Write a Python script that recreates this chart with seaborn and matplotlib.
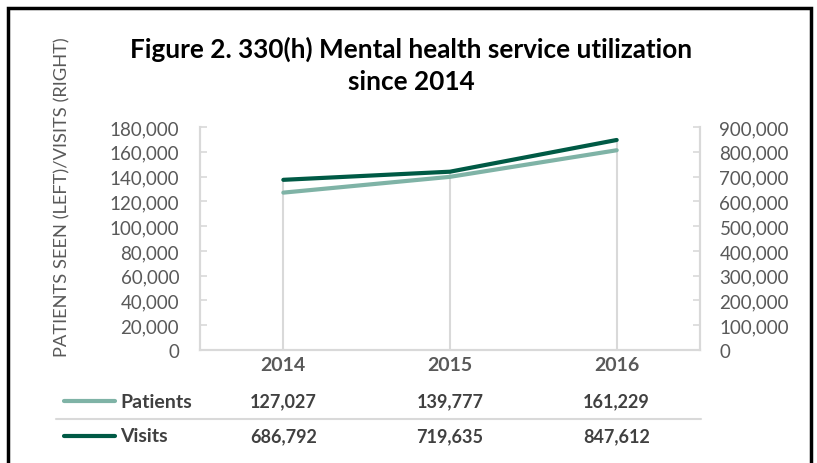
import matplotlib
matplotlib.use("Agg")
import matplotlib.pyplot as plt
import matplotlib.transforms as mtransforms
from matplotlib.patches import Rectangle
from matplotlib.lines import Line2D
from matplotlib.ticker import FuncFormatter, MultipleLocator
import seaborn as sns
import pandas as pd

years = ["2014", "2015", "2016"]
patients = [127027, 139777, 161229]
visits = [686792, 719635, 847612]
series_names = ["Patients", "Visits"]
title_lines = ["Figure 2. 330(h) Mental health service utilization", "since 2014"]
ylabel = "PATIENTS SEEN (LEFT)/VISITS (RIGHT)"

C_PAT = "#7fb3a6"
C_VIS = "#005a45"
GRID = "#d9d9d9"
TXT = "#595959"
TXT2 = "#404040"

sns.set_theme(style="white")
plt.rcParams["font.family"] = ["Lato", "DejaVu Sans"]

W, H = 817, 464
fig = plt.figure(figsize=(W / 100, H / 100), dpi=100)

def fx(x):
    return x / W

def fy(y):
    return 1 - y / H

ax = fig.add_axes([fx(200), fy(351), fx(700) - fx(200), fy(128) - fy(351)])
ax2 = ax.twinx()

df = pd.DataFrame({"year": years, "idx": range(len(years)), "Patients": patients, "Visits": visits})

# drop lines
for i, (p, v) in enumerate(zip(patients, visits)):
    top = max(p, v / 5.0)
    ax.plot([i, i], [0, top], color=GRID, lw=1.5, zorder=1, solid_capstyle="butt")

sns.lineplot(data=df, x="idx", y="Patients", ax=ax, color=C_PAT, lw=3.0,
             solid_capstyle="round", zorder=3, legend=False)
sns.lineplot(data=df, x="idx", y="Visits", ax=ax2, color=C_VIS, lw=3.0,
             solid_capstyle="round", zorder=3, legend=False)

ax.set_xlim(-0.5, 2.5)
ax.set_ylim(0, 180000)
ax2.set_ylim(0, 900000)
ax.yaxis.set_major_locator(MultipleLocator(20000))
ax2.yaxis.set_major_locator(MultipleLocator(100000))
fmt = FuncFormatter(lambda v, p: f"{int(v):,}")
ax.yaxis.set_major_formatter(fmt)
ax2.yaxis.set_major_formatter(fmt)
ax.set_xticks(range(len(years)))
ax.set_xticklabels(years, fontweight="bold", color=TXT, fontsize=14)
ax.tick_params(axis="x", length=0, pad=4)
ax.tick_params(axis="y", direction="in", length=5, width=1.2, color=GRID,
               labelcolor=TXT, labelsize=13.5, pad=15)
ax2.tick_params(axis="y", direction="in", length=5, width=1.2, color=GRID,
                labelcolor=TXT, labelsize=13.5, pad=14)
ax.set_xlabel("")
ax.set_ylabel("")
ax2.set_ylabel("")
for a in (ax, ax2):
    a.spines["top"].set_visible(False)
    for s in ("left", "right", "bottom"):
        a.spines[s].set_color(GRID)
        a.spines[s].set_linewidth(1.5)
ax.patch.set_visible(False)
ax2.patch.set_visible(False)

# title
fig.text(fx(411), fy(58), title_lines[0], ha="center", va="baseline", fontsize=18.8,
         fontweight="bold", color="black")
fig.text(fx(411), fy(90), title_lines[1], ha="center", va="baseline", fontsize=18.8,
         fontweight="bold", color="black")

# y label
fig.text(fx(62), fy(197), ylabel, rotation=90, ha="center", va="center",
         fontsize=13.2, color=TXT)

# data table
bt = mtransforms.blended_transform_factory(ax.transData, fig.transFigure)
rows = [("Patients", patients, C_PAT, 402), ("Visits", visits, C_VIS, 437)]
for name, vals, col, yy in rows:
    fig.add_artist(Line2D([fx(64), fx(115)], [fy(yy), fy(yy)], color=col, lw=3.0,
                          solid_capstyle="round", transform=fig.transFigure))
    fig.text(fx(120), fy(yy), name, ha="left", va="center", fontsize=14,
             fontweight="bold", color=TXT2)
    for i, v in enumerate(vals):
        fig.text(i, fy(yy), f"{v:,}", transform=bt, ha="center", va="center",
                 fontsize=13, fontweight="bold", color=TXT2)
fig.add_artist(Line2D([fx(56), fx(701)], [fy(420), fy(420)], color=GRID, lw=1.5,
                      transform=fig.transFigure))

# border
fig.add_artist(Rectangle((fx(7.5), fy(480)), fx(810.5) - fx(7.5), fy(8.5) - fy(480),
                         fill=False, edgecolor="black", lw=2.5, transform=fig.transFigure))

fig.savefig("out.png", dpi=100)
